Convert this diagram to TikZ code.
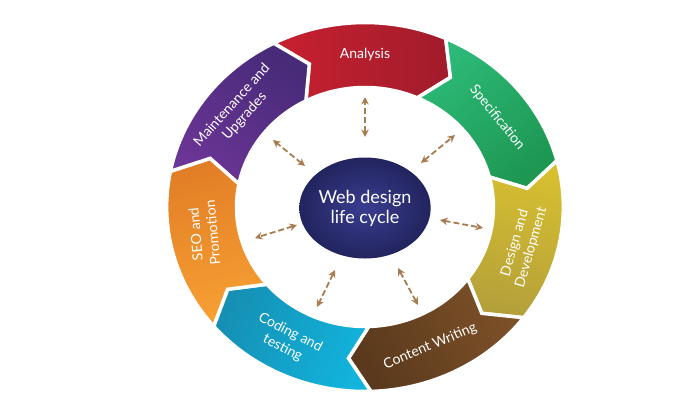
\documentclass[tikz,border=0pt]{standalone}
\usepackage{fontspec}
\setmainfont{Lato}
\usepackage{tikz}
\usetikzlibrary{shapes.geometric, positioning, arrows.meta}

\definecolor{anaA}{HTML}{C8202F}
\definecolor{anaB}{HTML}{A11C2C}
\definecolor{specA}{HTML}{2DBA78}
\definecolor{specB}{HTML}{1D9752}
\definecolor{desA}{HTML}{D8C030}
\definecolor{desB}{HTML}{B4A03A}
\definecolor{conA}{HTML}{7D5128}
\definecolor{conB}{HTML}{5A391C}
\definecolor{codA}{HTML}{12B3DD}
\definecolor{codB}{HTML}{1590B4}
\definecolor{seoA}{HTML}{F7A033}
\definecolor{seoB}{HTML}{E27E26}
\definecolor{mntA}{HTML}{6B3596}
\definecolor{mntB}{HTML}{472A78}
\definecolor{hubA}{HTML}{3A3D90}
\definecolor{hubB}{HTML}{22245E}
\definecolor{linkbrown}{HTML}{A97C50}

\begin{document}
\begin{tikzpicture}[
    x=1pt,y=1pt,
    stagetext/.style={text=white, align=center, inner sep=0pt, font=\fontsize{14}{17}\selectfont},
    hub/.style={ellipse, minimum width=116pt, minimum height=101pt, inner sep=0pt, inner color=hubA, outer color=hubB, text=white, align=center, font=\fontsize{18}{20}\selectfont},
    link/.style={{Stealth[length=7.5pt,width=7.5pt]}-{Stealth[length=7.5pt,width=7.5pt]}, linkbrown, line width=1.8pt, dash pattern=on 6pt off 3pt}
]
    \useasboundingbox (-365,-193) rectangle (335,207);

    % --- ring of stages (clockwise, tip at the end of each) ---
    \begin{scope}[xscale=1.075]
    \foreach \c/\cA/\cB/\ta/\rot/\nm/\lbl in {
        91.7/anaA/anaB/90/0/analysis/{Analysis},
        40.27/specA/specB/36/-51/spec/{Specification},
        -11.16/desA/desB/-14.6/74/design/{Design and\\Development},
        -62.59/conA/conB/-66.5/23/content/{Content Writing},
        -114.02/codA/codB/-118.7/-27/coding/{Coding and\\testing},
        -165.45/seoA/seoB/190/95/seo/{SEO and\\Promotion},
        -216.88/mntA/mntB/140.8/48/maint/{Maintenance and\\Upgrades}}{
        \pgfmathsetmacro\s{\c+25.715}
        \pgfmathsetmacro\e{\c-25.715}
        \shadedraw[top color=\cA, bottom color=\cB, shading angle=\c, draw=white, line width=3.5pt]
            (\s:184.5) arc[start angle=\s, end angle=\e, radius=184.5pt]
            -- (\e-7.5:152) -- (\e:119.5)
            arc[start angle=\e, end angle=\s, radius=119.5pt]
            -- (\s-7.5:152) -- cycle;
        \node[stagetext, rotate=\rot] (\nm) at (\ta:152) {\lbl};
    }
    \end{scope}

    % --- centre ---
    \node[hub] (core) at (0,-1) {Web design\\life cycle};

    % links between centre and ring
    \foreach \i/\xa/\ya/\xb/\yb in {1/0/70/0/110, 2/56/44/90/72, 3/75/-13/118/-21, 4/33/-61/53/-98,
        5/-30/-63/-48/-100, 6/-68/-18/-110/-31, 7/-60/41/-92/67}{
        \coordinate (in\i) at (\xa,\ya);
        \coordinate (out\i) at (\xb,\yb);
        \draw[link] (in\i) -- (out\i);
    }

\end{tikzpicture}
\end{document}
